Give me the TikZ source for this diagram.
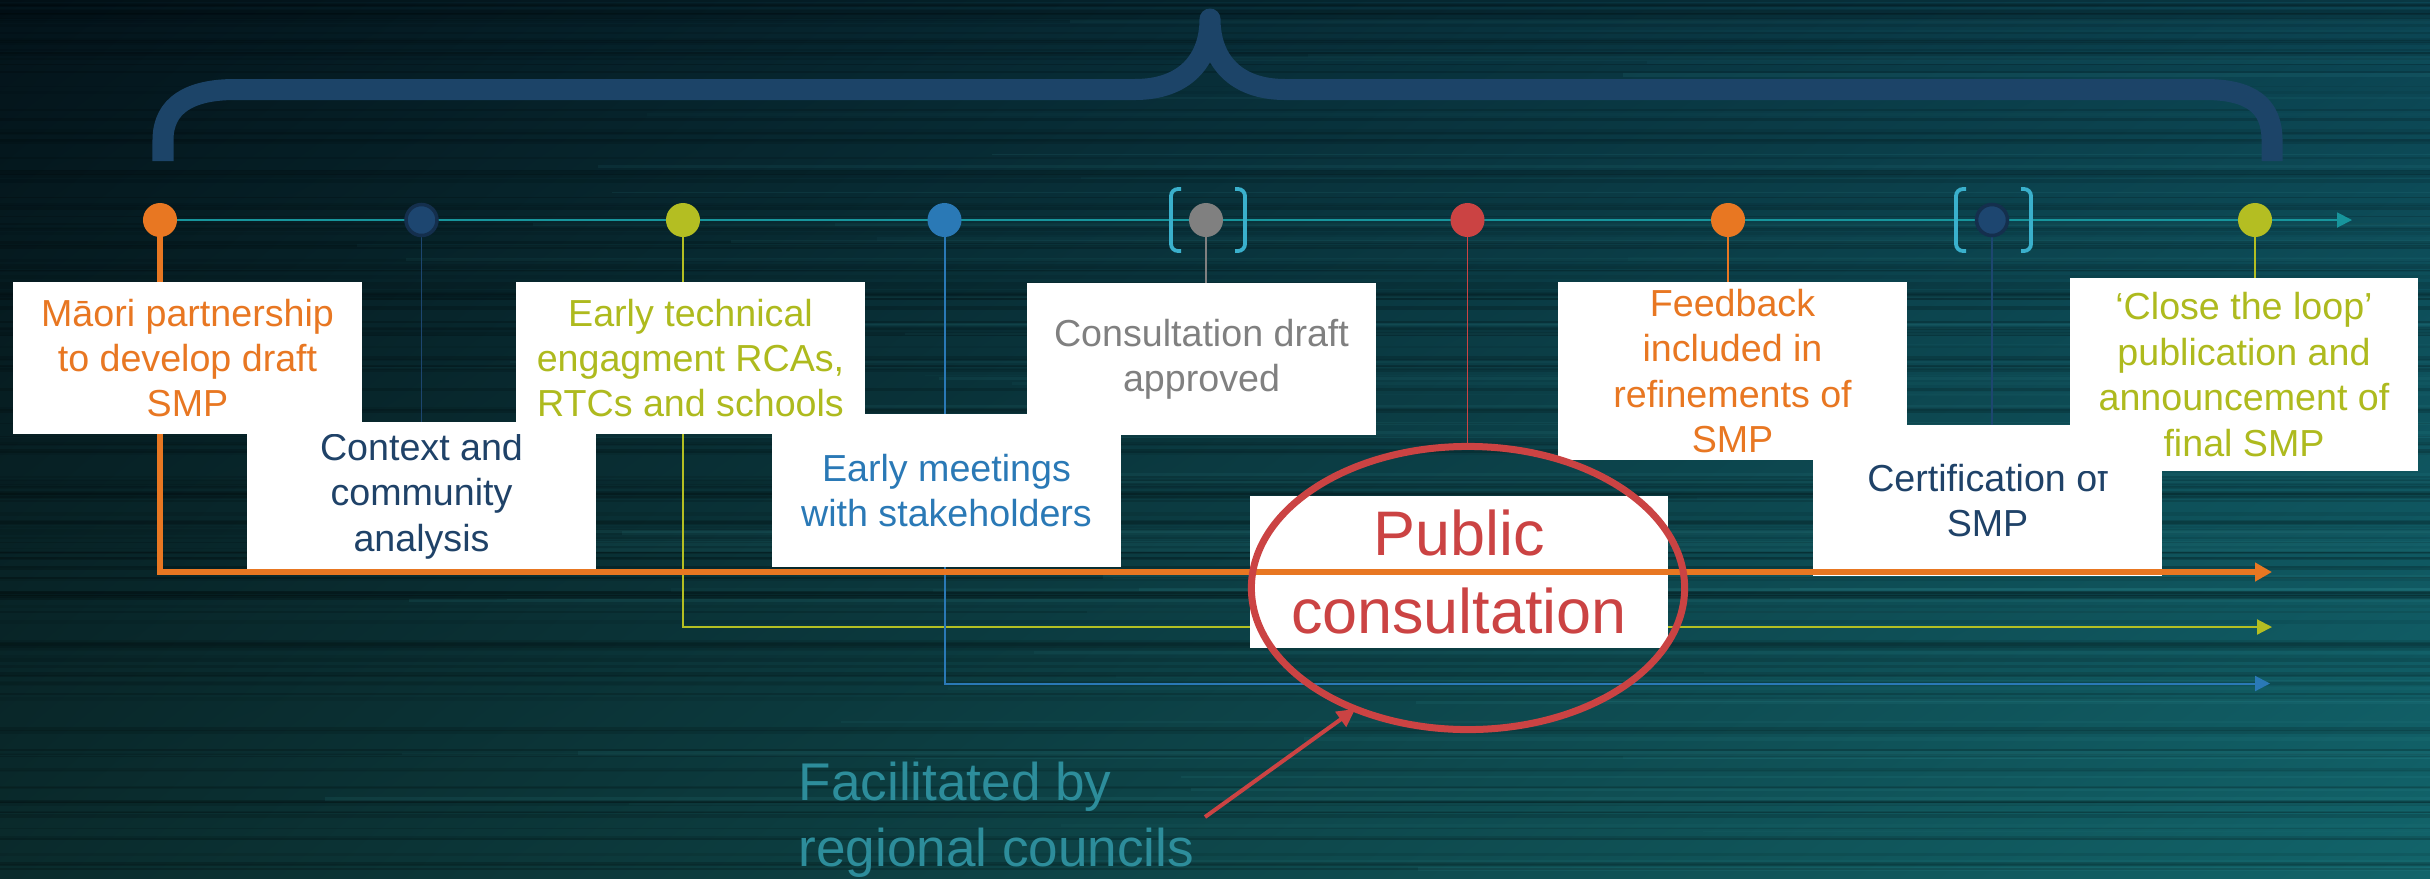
\documentclass[tikz,border=0pt]{standalone}
\usepackage{fontspec}
\setmainfont{Liberation Sans}
\usetikzlibrary{arrows.meta,shadings,shapes.geometric}

\definecolor{cOrange}{HTML}{E87722}
\definecolor{cNavy}{HTML}{1D4670}
\definecolor{cNavyEdge}{HTML}{142F4D}
\definecolor{cNavyText}{HTML}{1F4268}
\definecolor{cLime}{HTML}{B4BE22}
\definecolor{cLimeText}{HTML}{AEBA1E}
\definecolor{cBlue}{HTML}{2A79B6}
\definecolor{cGray}{HTML}{808080}
\definecolor{cRed}{HTML}{CB4343}
\definecolor{cBrace}{HTML}{1C4468}
\definecolor{cBracket}{HTML}{3AB0CC}
\definecolor{cTimeline}{HTML}{17959C}
\definecolor{cFacil}{HTML}{2D8D9B}
\definecolor{bgUL}{HTML}{03131A}
\definecolor{bgUR}{HTML}{0B4452}
\definecolor{bgLL}{HTML}{0A2B2C}
\definecolor{bgLR}{HTML}{12646A}
\definecolor{cStreak}{HTML}{3FA3A8}

\pgfdeclarelayer{bg}
\pgfdeclarelayer{back}
\pgfdeclarelayer{front}
\pgfsetlayers{bg,back,main,front}

\newcommand{\tlboxfont}{\fontsize{10.7pt}{12.9pt}\selectfont}

\begin{document}
\begin{tikzpicture}[x=0.01cm, y=-0.01cm,
  box/.style={fill=white, inner sep=0pt, outer sep=0pt, align=center,
    font=\tlboxfont, minimum width=3.49cm},
  dot/.style={circle, minimum size=3.4mm, inner sep=0pt, outer sep=0pt},
  navydot/.style={dot, fill=cNavy, draw=cNavyEdge, line width=0.35mm, minimum size=3.1mm},
  drop/.style={line width=0.15mm},
  feeder/.style={line width=0.2mm},
  bracket/.style={draw=cBracket, line width=0.38mm, rounded corners=0.7mm},
  smalltip/.style={-{Triangle[length=1.5mm,width=1.5mm]}},
]
\useasboundingbox (0,0) rectangle (2430,878);

% background with horizontal streaks
\begin{pgfonlayer}{bg}
  \shade[upper left=bgUL, upper right=bgUR, lower left=bgLL, lower right=bgLR]
    (0,0) rectangle (2430,878);
  \begin{scope}
    \clip (0,0) rectangle (2430,878);
    \pgfmathsetseed{11}
    \foreach \k in {1,...,170}{
      \pgfmathsetmacro{\yy}{878*rnd}
      \pgfmathsetmacro{\op}{0.05+0.14*rnd}
      \pgfmathsetmacro{\lw}{0.3+1.0*rnd}
      \draw[black, opacity=\op, line width=\lw pt] (0,\yy) -- (2430,\yy);
    }
    \foreach \k in {1,...,80}{
      \pgfmathsetmacro{\yy}{878*rnd}
      \pgfmathsetmacro{\xx}{300+1500*rnd}
      \pgfmathsetmacro{\op}{0.03+0.08*rnd}
      \pgfmathsetmacro{\lw}{0.3+0.9*rnd}
      \draw[cStreak, opacity=\op, line width=\lw pt] (\xx,\yy) -- (2430,\yy);
    }
  \end{scope}
\end{pgfonlayer}

% milestone positions and line ends
\coordinate (p1) at (160,220);
\coordinate (p2) at (421.5,220);
\coordinate (p3) at (683,220);
\coordinate (p4) at (944.5,220);
\coordinate (p5) at (1206,220);
\coordinate (p6) at (1467.5,220);
\coordinate (p7) at (1728,220);
\coordinate (p8) at (1992,220);
\coordinate (p9) at (2255,220);
\coordinate (tlEnd) at (2352,220);
\coordinate (oEnd) at (2272,572);
\coordinate (limeEnd) at (2272,627);
\coordinate (blueEnd) at (2270,683.5);

% curly brace over the timeline
\draw[cBrace, line width=2.1mm, line join=round]
  (163,161) -- (163,140) .. controls (163,105) and (190,89.5) .. (235,89.5)
  -- (1135,89.5) .. controls (1185,89.5) and (1210,60) .. (1210,19)
  .. controls (1210,60) and (1235,89.5) .. (1285,89.5)
  -- (2205,89.5) .. controls (2250,89.5) and (2272,105) .. (2272,140) -- (2272,161);

% label boxes
\node[box, text=cNavyText, minimum height=1.48cm] (ctx) at (421.5,496)
  {Context and\\community\\analysis};
\node[box, text=cBlue, minimum height=1.53cm] (meet) at (946.5,490.5)
  {Early meetings\\with stakeholders};
\node[box, text=cLimeText, minimum height=1.52cm] (tech) at (690.5,358)
  {Early technical\\engagment RCAs,\\RTCs and schools};
\node[box, text=cGray, minimum height=1.52cm] (draft) at (1201.5,359)
  {Consultation draft\\approved};
\node[box, text=cRed, minimum width=4.18cm, minimum height=1.52cm,
  font=\fontsize{17.9pt}{22.2pt}\selectfont] (pub) at (1459,572)
  {Public\\consultation};
\node[box, text=cNavyText, minimum height=1.51cm] (cert) at (1987.5,500.5)
  {Certification of\\SMP};
\node[box, text=cOrange, minimum height=1.78cm] (feedbox) at (1732.5,371)
  {Feedback\\included in\\refinements of\\SMP};
\node[box, text=cLimeText, minimum width=3.48cm, minimum height=1.93cm] (loop) at (2244,374.5)
  {‘Close the loop’\\publication and\\announcement of\\final SMP};

% milestone dots
\node[dot, fill=cOrange] (d1) at (p1) {};
\node[navydot] (d2) at (p2) {};
\node[dot, fill=cLime] (d3) at (p3) {};
\node[dot, fill=cBlue] (d4) at (p4) {};
\node[dot, fill=cGray] (d5) at (p5) {};
\node[dot, fill=cRed] (d6) at (p6) {};
\node[dot, fill=cOrange] (d7) at (p7) {};
\node[navydot] (d8) at (p8) {};
\node[dot, fill=cLime] (d9) at (p9) {};

% brackets around two milestones
\draw[bracket] (1181,189) -| (1171,220) |- (1181,251);
\draw[bracket] (1235,189) -| (1245,220) |- (1235,251);
\draw[bracket] (1966,189) -| (1956,220) |- (1966,251);
\draw[bracket] (2021,189) -| (2031,220) |- (2021,251);

% front: orange track, first box, highlight ellipse and callout
\begin{pgfonlayer}{front}
  \draw[cOrange, line width=0.6mm, -{Triangle[length=1.7mm,width=1.8mm]}]
    (p1 |- oEnd) -- (oEnd);
  \node[box, text=cOrange, minimum height=1.52cm] (maori) at (187.5,358)
    {Māori partnership\\to develop draft\\SMP};
  \node[ellipse, draw=cRed, line width=0.7mm, minimum width=4.33cm,
    minimum height=2.83cm, inner sep=0pt, outer sep=0pt] (pc) at (1468,588) {};
  \node[anchor=west, align=left, inner sep=0pt, text=cFacil,
    font=\fontsize{15.1pt}{18.8pt}\selectfont] (facil) at (798,820)
    {Facilitated by\\regional councils};
  \coordinate (atail) at (1205,817);
  \draw[cRed, line width=0.4mm, -{Triangle[length=1.8mm,width=1.8mm]}]
    (atail) -- (pc.227);
\end{pgfonlayer}

% back: timeline, tracks and drop lines
\begin{pgfonlayer}{back}
  \draw[cTimeline, line width=0.18mm, -{Triangle[length=1.5mm,width=1.5mm]}]
    (d1.west) -- (tlEnd);
  \draw[cOrange, line width=0.6mm, line cap=rect] (p1) -- (p1 |- oEnd);
  \draw[cLime, feeder, smalltip] (p3) |- (limeEnd);
  \draw[cBlue, feeder, smalltip] (p4) |- (blueEnd);
  \draw[cNavy, drop] (p2) -- (p2 |- ctx.north);
  \draw[cGray, drop] (p5) -- (p5 |- draft.north);
  \draw[cRed, drop] (p6) -- (p6 |- pc.north);
  \draw[cOrange, drop] (p7) -- (p7 |- feedbox.north);
  \draw[cNavy, drop] (p8) -- (p8 |- cert.north);
  \draw[cLime, drop] (p9) -- (p9 |- loop.north);
\end{pgfonlayer}
\end{tikzpicture}
\end{document}
